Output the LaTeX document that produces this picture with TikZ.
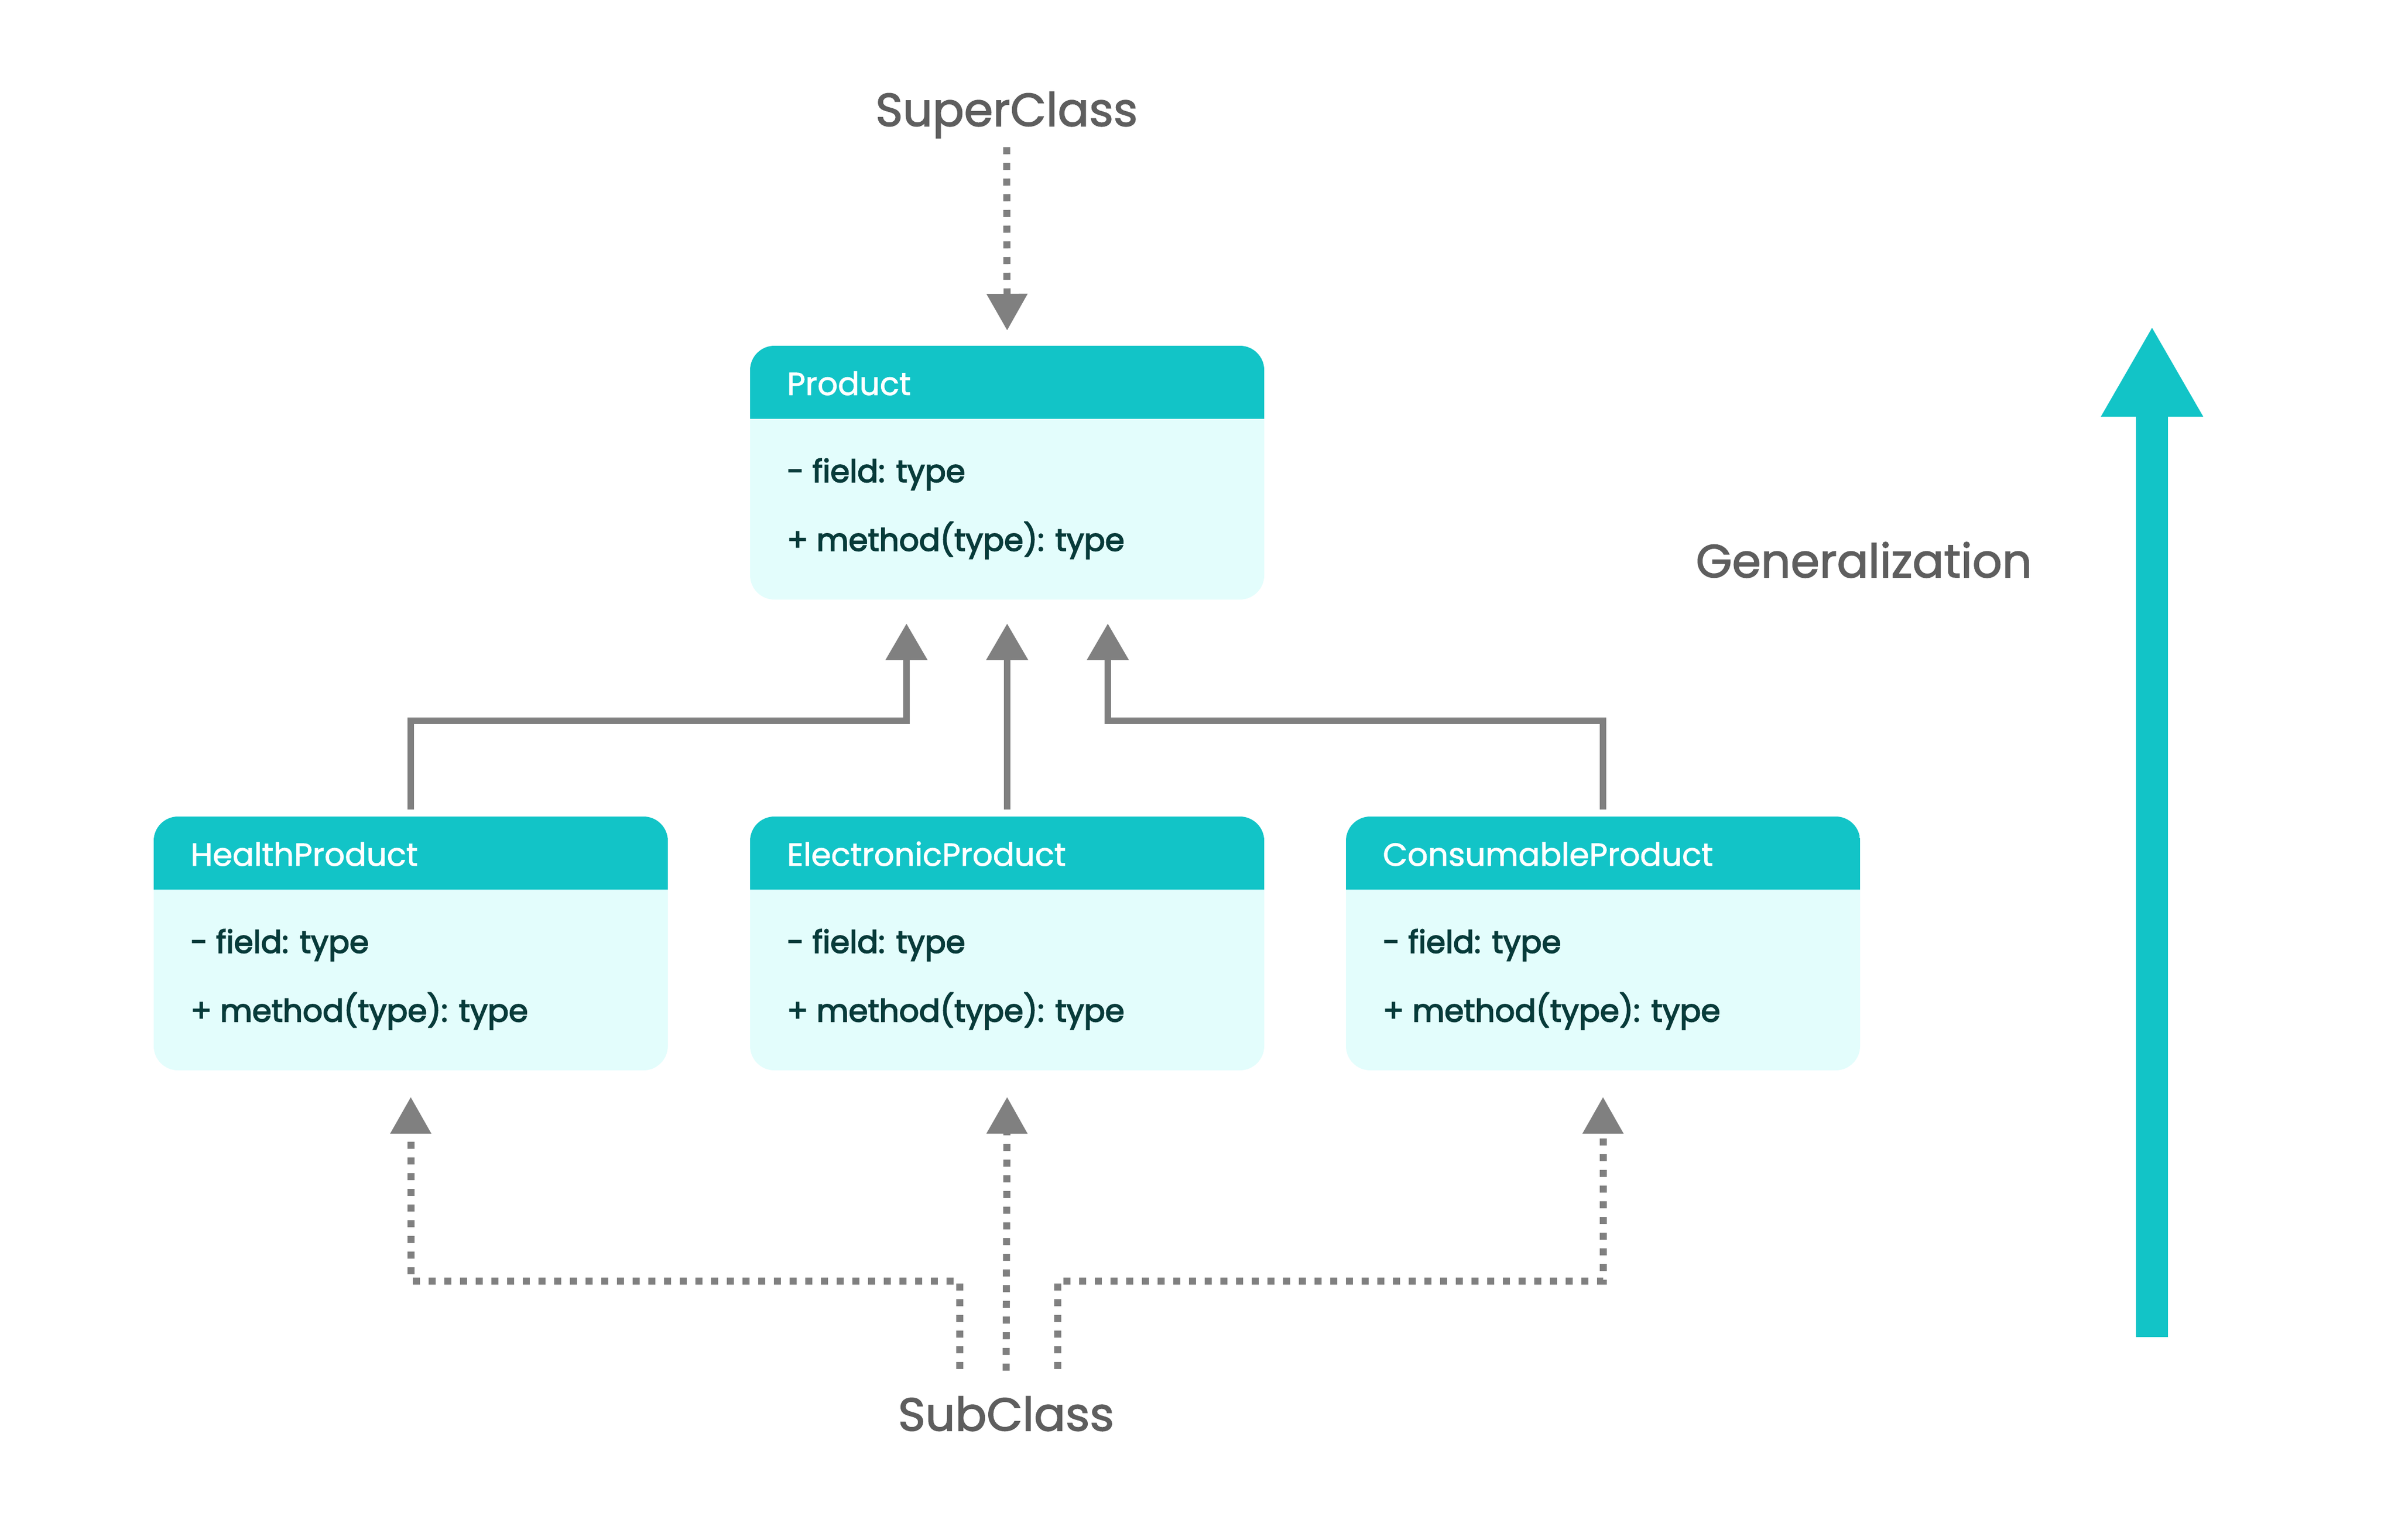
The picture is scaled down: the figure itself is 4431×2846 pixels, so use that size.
\documentclass[tikz,border=0pt]{standalone}
\usepackage{fontspec}
\setmainfont{Poppins}
\newfontfamily\bodyfont[FakeBold=3]{Poppins}
\newfontfamily\headfont[FakeBold=1.5]{Poppins}
\newfontfamily\lblfont[FakeBold=1.8]{Poppins}
\usetikzlibrary{arrows.meta,calc}
\definecolor{headcol}{HTML}{12C4C7}
\definecolor{bodycol}{HTML}{E3FDFC}
\definecolor{bodytext}{HTML}{073B3A}
\definecolor{conncol}{HTML}{808080}
\definecolor{lblcol}{HTML}{5E5E5E}
\begin{document}
\begin{tikzpicture}[x=1pt,y=-1pt,
  umlbox/.style={draw=none, fill=bodycol, rounded corners=45pt, minimum width=950pt, minimum height=469pt, inner sep=0pt, outer sep=0pt},
  headtxt/.style={anchor=base west, inner sep=0pt, text=white, font=\headfont\fontsize{59}{68}\selectfont},
  bodytxt/.style={anchor=base west, inner sep=0pt, text=bodytext, font=\bodyfont\fontsize{57.5}{66}\selectfont},
  lbl/.style={anchor=base, inner sep=0pt, text=lblcol, font=\lblfont\fontsize{86}{96}\selectfont},
  solidconn/.style={draw=conncol, line width=12.5pt, -{Triangle[length=67pt,width=78pt,line width=0.1pt]}},
  dotconn/.style={draw=conncol, line width=13pt, dash pattern=on 13pt off 16pt, -{Triangle[length=67pt,width=76pt,line width=0.1pt,sep=13pt]}},
  bigarrow/.style={draw=headcol, line width=59pt, -{Triangle[length=164pt,width=189pt,line width=0.1pt]}}
]
\useasboundingbox (0,0) rectangle (4431,2846);
\fill[white] (0,0) rectangle (4431,2846);

% labels
\node[lbl] (sup) at (1860,233) {SuperClass};
\node[lbl] (sub) at (1859,2644) {SubClass};
\node[lbl] (gen) at (3444,1067) {Generalization};

% boxes
\node[umlbox] (prod) at (1861,873.5) {};
\node[umlbox] (hp) at (759,1743.5) {};
\node[umlbox] (ep) at (1861,1743.5) {};
\node[umlbox] (cp) at (2962,1743.5) {};
\foreach \b in {prod,hp,ep,cp}{
  \begin{scope}
    \clip[rounded corners=45pt] (\b.south west) rectangle (\b.north east);
    \fill[headcol] (\b.north west) rectangle ([yshift=-135pt]\b.north east);
  \end{scope}
}

% texts
\node[headtxt] (prodT) at ([xshift=68pt,yshift=-91pt]prod.north west) {Product};
\node[bodytxt] (prodF) at ([xshift=68pt,yshift=-252pt]prod.north west) {- field: type};
\node[bodytxt] (prodM) at ([xshift=68pt,yshift=-379pt]prod.north west) {+ method(type): type};

\node[headtxt] (hpT) at ([xshift=68pt,yshift=-91pt]hp.north west) {HealthProduct};
\node[bodytxt] (hpF) at ([xshift=68pt,yshift=-252pt]hp.north west) {- field: type};
\node[bodytxt] (hpM) at ([xshift=68pt,yshift=-379pt]hp.north west) {+ method(type): type};

\node[headtxt] (epT) at ([xshift=68pt,yshift=-91pt]ep.north west) {ElectronicProduct};
\node[bodytxt] (epF) at ([xshift=68pt,yshift=-252pt]ep.north west) {- field: type};
\node[bodytxt] (epM) at ([xshift=68pt,yshift=-379pt]ep.north west) {+ method(type): type};

\node[headtxt] (cpT) at ([xshift=68pt,yshift=-91pt]cp.north west) {ConsumableProduct};
\node[bodytxt] (cpF) at ([xshift=68pt,yshift=-252pt]cp.north west) {- field: type};
\node[bodytxt] (cpM) at ([xshift=68pt,yshift=-379pt]cp.north west) {+ method(type): type};

% generalization connectors
\coordinate (tipL) at ([xshift=-186pt,yshift=-45pt]prod.south);
\coordinate (tipR) at ([xshift=186pt,yshift=-45pt]prod.south);
\draw[solidconn] ([yshift=13pt]hp.north) -- ++(0,-164) -| (tipL);
\draw[solidconn] ([yshift=13pt]ep.north) -- ([yshift=-45pt]prod.south);
\draw[solidconn] ([yshift=13pt]cp.north) -- ++(0,-164) -| (tipR);

% superclass pointer
\draw[dotconn] ([yshift=-39pt]sup.base) -- ([yshift=16pt]prod.north);

% subclass pointers
\coordinate (subL) at ([xshift=-86pt,yshift=114pt]sub.base);
\coordinate (subM) at ([yshift=111pt]sub.base);
\coordinate (subR) at ([xshift=95pt,yshift=114pt]sub.base);
\draw[dotconn] (subL) -- ++(0,-163) -| ([yshift=-37pt]hp.south);
\draw[dotconn] (subM) -- ([yshift=-37pt]ep.south);
\draw[dotconn] (subR) -- ++(0,-163) -| ([yshift=-37pt]cp.south);

% big generalization arrow
\coordinate (gA) at (3976.5,2471);
\coordinate (gB) at (3976.5,606);
\draw[bigarrow] (gA) -- (gB);
\end{tikzpicture}
\end{document}
